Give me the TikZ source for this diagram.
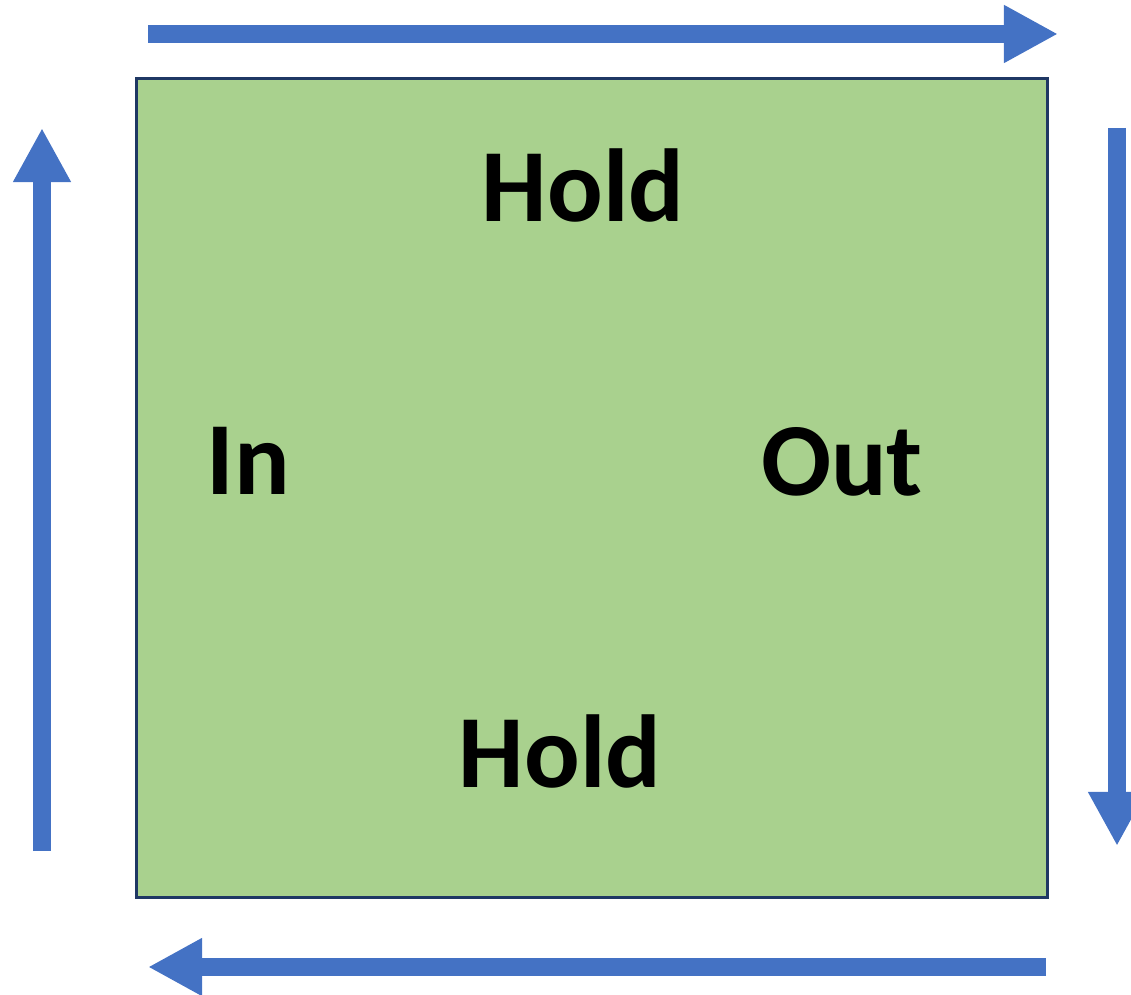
\documentclass[tikz,border=0pt]{standalone}
\usepackage{fontspec}
\setmainfont{Carlito}
\usetikzlibrary{arrows.meta}
\definecolor{arblue}{HTML}{4472C4}
\definecolor{boxgreen}{HTML}{A9D18E}
\definecolor{boxline}{HTML}{1F3864}
\tikzset{
    BX/.style ={rectangle, draw=boxline, fill=boxgreen, line width=0.9pt, minimum width = 9.1cm, minimum height = 8.18cm},
    TX/.style ={anchor=base, inner sep=0pt, font=\fontsize{29.5}{35}\selectfont\bfseries},
    AR/.style ={arblue, line width=0.18cm, -{Triangle[length=0.54cm,width=0.54cm]}}}
\begin{document}
\begin{tikzpicture}[x=0.01cm,y=-0.01cm]
        \useasboundingbox (0,0) rectangle (1131,995);
        \node[BX] (box) at (592,488) {};
        \node[TX] (holdtop) at (583,222) {Hold};
        \node[TX] (in) at (248,495) {In};
        \node[TX] (out) at (842,496) {Out};
        \node[TX] (holdbot) at (560,787) {Hold};
        \coordinate (t1) at (148,34);
        \coordinate (t2) at (1058,34);
        \coordinate (r1) at (1117,128);
        \coordinate (r2) at (1117,846);
        \coordinate (b1) at (1046,967);
        \coordinate (b2) at (148,967);
        \coordinate (l1) at (42,851);
        \coordinate (l2) at (42,128);
        \foreach \a/\b in {t1/t2,r1/r2,b1/b2,l1/l2}{
            \draw[AR] (\a)--(\b);}
    \end{tikzpicture}
\end{document}
